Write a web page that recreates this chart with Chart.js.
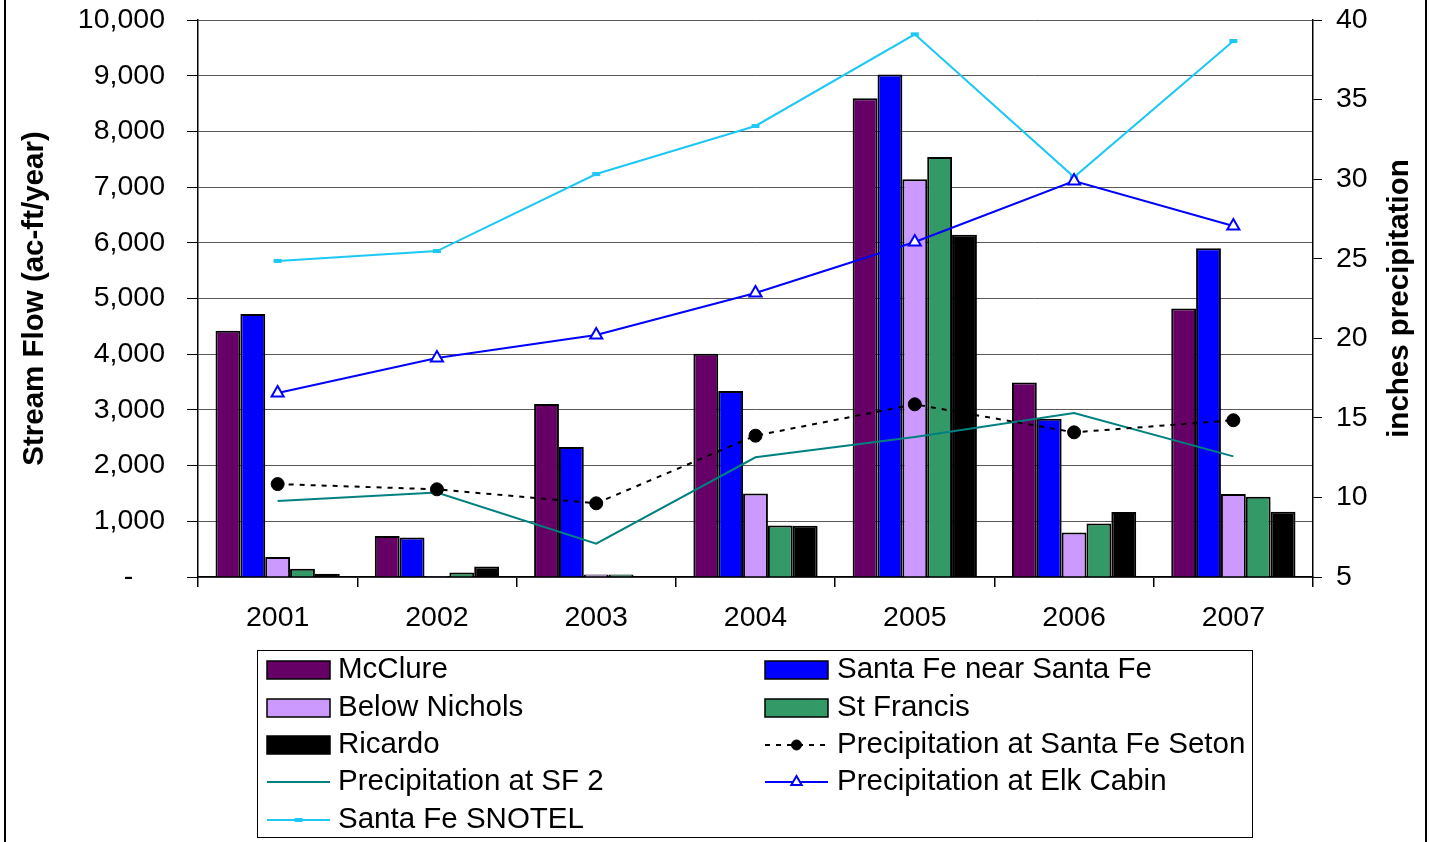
<!DOCTYPE html>
<html><head><meta charset="utf-8">
<script src="https://cdn.jsdelivr.net/npm/chart.js@4.4.0/dist/chart.umd.min.js"></script>
<style>html,body{margin:0;padding:0;background:#fff}#wrap{width:1430px;height:842px;position:relative}</style>
</head><body><div id="wrap"><canvas id="c"></canvas></div>
<script>
const categories = ['2001','2002','2003','2004','2005','2006','2007'];
const mcclure      = [4420, 735, 3105, 4010, 8595, 3490, 4820];
const santaFeNear  = [4720, 710, 2335, 3340, 9020, 2840, 5900];
const belowNichols = [360, 20, 45, 1500, 7140, 800, 1490];
const stFrancis    = [150, 80, 45, 925, 7540, 960, 1440];
const ricardo      = [60, 190, 15, 920, 6145, 1165, 1170];
const precipSeton  = [10.84, 10.51, 9.63, 13.88, 15.85, 14.09, 14.85];
const precipSF2    = [9.78, 10.31, 7.10, 12.52, 13.80, 15.30, 12.58];
const precipElk    = [16.56, 18.76, 20.21, 22.85, 26.05, 29.88, 27.06];
const snotel       = [24.86, 25.48, 30.32, 33.34, 39.10, 30.13, 38.68];
const leftTickLabels  = ['-    ','1,000','2,000','3,000','4,000','5,000','6,000','7,000','8,000','9,000','10,000'];
const rightTickLabels = ['5','10','15','20','25','30','35','40'];
const leftTitle  = 'Stream Flow (ac-ft/year)';
const rightTitle = 'inches precipitation';

const FONT = "'Liberation Sans', Arial, sans-serif";
Chart.defaults.font.family = FONT;
Chart.defaults.color = '#000';

function barDs(label, data, color){
  return {type:'bar', label, data, backgroundColor:color, borderColor:'#000', borderWidth:2,
    yAxisID:'y', order:1, categoryPercentage:0.78, barPercentage:1.0};
}
function lineDs(label, data, o){
  return Object.assign({type:'line', label, data, yAxisID:'y2', order:0, fill:false, tension:0,
    borderWidth:2, pointRadius:0}, o);
}

const datasets = [
  barDs('McClure', mcclure, '#660066'),
  barDs('Santa Fe near Santa Fe', santaFeNear, '#0000FF'),
  barDs('Below Nichols', belowNichols, '#CC99FF'),
  barDs('St Francis', stFrancis, '#339966'),
  barDs('Ricardo', ricardo, '#000000'),
  lineDs('Precipitation at Santa Fe Seton', precipSeton, {borderColor:'#000', borderDash:[5,6],
    pointStyle:'circle', pointRadius:6.5, pointBackgroundColor:'#000', pointBorderColor:'#000', pointBorderWidth:1}),
  lineDs('Precipitation at SF 2', precipSF2, {borderColor:'#008080'}),
  lineDs('Precipitation at Elk Cabin', precipElk, {borderColor:'#0000FF',
    pointStyle:'triangle', pointRadius:7, pointBackgroundColor:'#fff', pointBorderColor:'#0000FF', pointBorderWidth:2}),
  lineDs('Santa Fe SNOTEL', snotel, {borderColor:'#1EC8F5',
    pointStyle:'line', pointRadius:4, pointBackgroundColor:'#1EC8F5', pointBorderColor:'#1EC8F5', pointBorderWidth:4})
];

const extras = {
  id:'extras',
  afterDraw(chart){
    const ctx = chart.ctx;
    const ca = chart.chartArea;
    ctx.save();
    // frame
    ctx.strokeStyle = '#000'; ctx.lineWidth = 2;
    ctx.beginPath(); ctx.moveTo(5,0); ctx.lineTo(5,842); ctx.moveTo(1426,0); ctx.lineTo(1426,842); ctx.stroke();
    // titles
    ctx.fillStyle = '#000';
    ctx.font = "bold 29.5px " + FONT;
    ctx.textAlign = 'center'; ctx.textBaseline = 'middle';
    const cy = (ca.top + ca.bottom)/2;
    ctx.save(); ctx.translate(35, cy); ctx.rotate(-Math.PI/2); ctx.fillText(leftTitle, 0, 0); ctx.restore();
    ctx.save(); ctx.translate(1400, cy); ctx.rotate(-Math.PI/2); ctx.fillText(rightTitle, 0, 0); ctx.restore();
    // legend
    ctx.lineWidth = 1; ctx.strokeStyle = '#000';
    ctx.strokeRect(257.5, 650.5, 995, 187);
    const symX = [267, 765], txtX = [338, 837], rowY = [670, 708, 745, 782, 820], symW = 63;
    ctx.font = "29.5px " + FONT; ctx.textAlign = 'left'; ctx.textBaseline = 'middle';
    chart.data.datasets.forEach((ds, i) => {
      const col = i % 2, row = Math.floor(i / 2);
      const x = symX[col], y = rowY[row];
      if (ds.type === 'bar') {
        ctx.fillStyle = ds.backgroundColor; ctx.fillRect(x, y - 9, symW, 18);
        ctx.strokeStyle = '#000'; ctx.lineWidth = 1.5; ctx.setLineDash([]); ctx.strokeRect(x, y - 9, symW, 18);
      } else {
        ctx.strokeStyle = ds.borderColor; ctx.lineWidth = ds.borderWidth;
        ctx.setLineDash(ds.borderDash || []);
        ctx.beginPath(); ctx.moveTo(x, y); ctx.lineTo(x + symW, y); ctx.stroke();
        ctx.setLineDash([]);
        if (ds.pointRadius > 0) {
          ctx.fillStyle = ds.pointBackgroundColor; ctx.strokeStyle = ds.pointBorderColor;
          ctx.lineWidth = ds.pointBorderWidth;
          Chart.helpers.drawPoint(ctx, {pointStyle: ds.pointStyle, rotation: 0,
            radius: ds.pointStyle === 'circle' ? 5 : (ds.pointStyle === 'triangle' ? 6 : ds.pointRadius),
            borderWidth: ds.pointBorderWidth}, x + symW/2, y);
        }
      }
      ctx.fillStyle = '#000';
      ctx.fillText(ds.label, txtX[col], y);
    });
    ctx.restore();
  }
};

new Chart(document.getElementById('c'), {
  data: {labels: categories, datasets},
  options: {
    responsive: true, maintainAspectRatio: false, animation: false, devicePixelRatio: 1,
    layout: {padding: {top: 20, left: 0, right: 0, bottom: 0}},
    plugins: {legend: {display: false}, tooltip: {enabled: false}},
    scales: {
      x: {type:'category', offset:true,
        grid:{offset:true, drawOnChartArea:false, drawTicks:true, tickLength:10, color:'#000', lineWidth:1.5},
        border:{display:true, color:'#000', width:1.5},
        ticks:{font:{size:28.5}, color:'#000', padding:14, maxRotation:0, autoSkip:false},
        afterFit(s){ s.height = 265; s.paddingLeft = 0; s.paddingRight = 0; }},
      y: {position:'left', min:0, max:10000,
        ticks:{stepSize:1000, font:{size:28.5}, color:'#000', padding:22,
          callback:(v, i) => leftTickLabels[i]},
        grid:{color:'#5a5a5a', tickColor:'#000', tickLength:11, lineWidth:1},
        border:{color:'#000', width:1.5},
        afterFit(s){ s.width = 198; s.paddingTop = 0; s.paddingBottom = 0; }},
      y2: {position:'right', min:5, max:40,
        ticks:{stepSize:5, font:{size:28.5}, color:'#000', padding:14,
          callback:(v, i) => rightTickLabels[i]},
        grid:{drawOnChartArea:false, color:'#000', tickLength:9, lineWidth:1},
        border:{color:'#000', width:1.5},
        afterFit(s){ s.width = 117; s.paddingTop = 0; s.paddingBottom = 0; }}
    }
  },
  plugins: [extras]
});
</script></body></html>
